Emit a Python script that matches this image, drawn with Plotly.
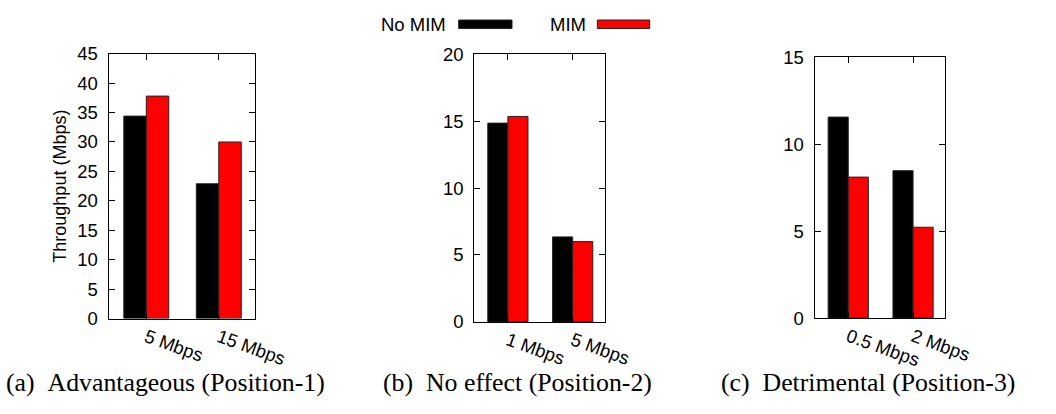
import plotly.graph_objects as go

# Throughput per background-traffic level, three node positions
cats_a = ["5 Mbps", "15 Mbps"]
no_mim_a = [34.4, 22.9]
mim_a = [37.8, 30.0]

cats_b = ["1 Mbps", "5 Mbps"]
no_mim_b = [14.85, 6.35]
mim_b = [15.35, 6.0]

cats_c = ["0.5 Mbps", "2 Mbps"]
no_mim_c = [11.55, 8.47]
mim_c = [8.1, 5.22]

y_max = [45, 20, 15]
captions = ["(a)\u00a0\u00a0Advantageous (Position-1)",
            "(b)\u00a0\u00a0No effect (Position-2)",
            "(c)\u00a0\u00a0Detrimental (Position-3)"]
series_names = ["No MIM", "MIM"]
series_colors = ["#000000", "#ff0000"]

W, H = 1056, 414
# panel frames in pixels: (left, right, top, bottom)
frames = [(112, 263, 45, 324), (489, 624, 45.5, 327.5), (840, 975, 48.5, 323.5)]
caption_x = [171, 534, 895]

SANS = "Liberation Sans"
SERIF = "Liberation Serif"
FS = 18.5

fig = go.Figure()
panels = [(cats_a, no_mim_a, mim_a), (cats_b, no_mim_b, mim_b), (cats_c, no_mim_c, mim_c)]

for i, (cats, nm, m) in enumerate(panels):
    sfx = "" if i == 0 else str(i + 1)
    for vals, name, col in zip((nm, m), series_names, series_colors):
        fig.add_trace(go.Bar(
            x=cats, y=vals, name=name, showlegend=False,
            marker=dict(color=col, line=dict(color="#222222", width=1)),
            xaxis="x" + sfx, yaxis="y" + sfx,
        ))
    l, r, t, b = frames[i]
    ax = dict(
        domain=[l / W, r / W], anchor="y" + sfx,
        range=[-0.52, 1.5], showline=True, linecolor="black", linewidth=1,
        mirror="ticks", ticks="inside", ticklen=6, tickcolor="black",
        tickangle=20, tickfont=dict(family=SANS, size=FS, color="black"),
        showgrid=False, zeroline=False, fixedrange=True,
    )
    ay = dict(
        domain=[(H - b) / H, (H - t) / H], anchor="x" + sfx,
        range=[0, y_max[i]], dtick=5, showline=True, linecolor="black",
        linewidth=1, mirror="ticks", ticks="inside", ticklen=6,
        tickcolor="black", tickfont=dict(family=SANS, size=FS, color="black"),
        ticklabelstandoff=6,
        showgrid=False, zeroline=False, fixedrange=True,
    )
    if i == 0:
        ay["title"] = dict(text="Throughput (Mbps)",
                           font=dict(family=SANS, size=18, color="black"),
                           standoff=6)
    fig.layout["xaxis" + sfx] = ax
    fig.layout["yaxis" + sfx] = ay

annotations = []
for cx, cap in zip(caption_x, captions):
    annotations.append(dict(
        text=cap, x=cx / W, y=(H - 391) / H, xref="paper", yref="paper",
        xanchor="center", yanchor="middle", showarrow=False,
        font=dict(family=SERIF, size=25.8, color="black"),
    ))

# legend: label followed by its colour swatch
legend_items = [(462, 473, 528), (606, 616, 670)]
shapes = []
for (tx, s0, s1), name, col in zip(legend_items, series_names, series_colors):
    annotations.append(dict(
        text=name, x=tx / W, y=(H - 14) / H, xref="paper", yref="paper",
        xanchor="right", yanchor="middle", showarrow=False,
        font=dict(family=SANS, size=FS, color="black"),
    ))
    shapes.append(dict(
        type="rect", xref="paper", yref="paper",
        x0=s0 / W, x1=s1 / W, y0=(H - 18.5) / H, y1=(H - 9.5) / H,
        fillcolor=col, line=dict(color="#222222", width=1),
    ))

fig.update_layout(
    width=W, height=H, autosize=False,
    margin=dict(l=0, r=0, t=0, b=0),
    barmode="group", bargap=0.38, bargroupgap=0,
    plot_bgcolor="white", paper_bgcolor="white",
    annotations=annotations, shapes=shapes,
    showlegend=False,
)

fig.write_html("out.html", config={"displayModeBar": False})
